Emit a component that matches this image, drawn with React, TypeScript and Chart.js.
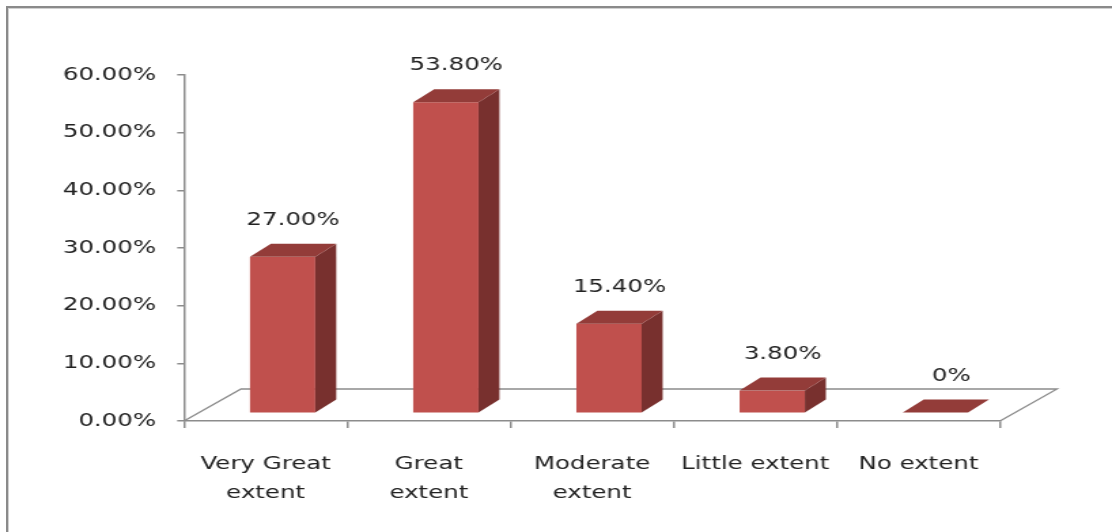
import React, { useEffect, useRef } from "react";
import { Chart, registerables } from "chart.js";

Chart.register(...registerables);

// Survey answers and their shares (percent)
const categories: string[][] = [
  ["Very Great", "extent"],
  ["Great", "extent"],
  ["Moderate", "extent"],
  ["Little extent"],
  ["No extent"],
];
const shares: number[] = [27.0, 53.8, 15.4, 3.8, 0];
const axisMax = 60;
const axisStep = 10;

// The chart is laid out in a narrower drawing space and widened on screen.
const VIEW_W = 1112;
const VIEW_H = 532;
const DRAW_W = 818;
const STRETCH = VIEW_W / DRAW_W;

// 3-D look: floor depth, bar placement inside the floor, bar depth
const FLOOR_DX = 57 / STRETCH;
const FLOOR_DY = -32;
const FRONT_DX = 17 / STRETCH;
const FRONT_DY = -8.5;
const BAR_DX = 21 / STRETCH;
const BAR_DY = -13;

const FACE = "#C0504D";
const TOP = "#933C39";
const SIDE = "#78302E";
const AXIS = "#8c8c8c";
const TEXT = "#222222";
const FONT = "DejaVu Sans";

const formatShare = (v: number) => (v === 0 ? "0%" : v.toFixed(2) + "%");

const boxes3d = {
  id: "boxes3d",
  beforeDatasetsDraw(chart: any) {
    const { ctx, chartArea } = chart;
    const { left, right, bottom } = chartArea;
    ctx.save();
    ctx.strokeStyle = AXIS;
    ctx.lineWidth = 1.3;
    ctx.beginPath();
    ctx.moveTo(left, bottom);
    ctx.lineTo(left + FLOOR_DX, bottom + FLOOR_DY);
    ctx.lineTo(right + FLOOR_DX, bottom + FLOOR_DY);
    ctx.lineTo(right, bottom);
    ctx.stroke();
    ctx.restore();
  },
  afterDatasetsDraw(chart: any) {
    const { ctx } = chart;
    const yScale = chart.scales.y;
    const meta = chart.getDatasetMeta(0);
    const values: number[] = chart.data.datasets[0].data;
    ctx.save();
    meta.data.forEach((bar: any, i: number) => {
      const { x, width } = bar.getProps(["x", "width"], true);
      const x0 = x - width / 2 + FRONT_DX;
      const x1 = x + width / 2 + FRONT_DX;
      const yb = yScale.getPixelForValue(0) + FRONT_DY;
      const yt = yScale.getPixelForValue(values[i]) + FRONT_DY;

      // front face
      ctx.fillStyle = FACE;
      ctx.fillRect(x0, yt, x1 - x0, yb - yt);

      // right side
      ctx.fillStyle = SIDE;
      ctx.beginPath();
      ctx.moveTo(x1, yt);
      ctx.lineTo(x1 + BAR_DX, yt + BAR_DY);
      ctx.lineTo(x1 + BAR_DX, yb + BAR_DY);
      ctx.lineTo(x1, yb);
      ctx.closePath();
      ctx.fill();

      // top face
      ctx.fillStyle = TOP;
      ctx.beginPath();
      ctx.moveTo(x0, yt);
      ctx.lineTo(x1, yt);
      ctx.lineTo(x1 + BAR_DX, yt + BAR_DY);
      ctx.lineTo(x0 + BAR_DX, yt + BAR_DY);
      ctx.closePath();
      ctx.fill();

      // value label
      ctx.fillStyle = TEXT;
      ctx.font = `18px "${FONT}"`;
      ctx.textAlign = "center";
      ctx.textBaseline = "alphabetic";
      const nudge = values[i] === 0 ? 4 : 0;
      ctx.fillText(
        formatShare(values[i]),
        x + FRONT_DX + BAR_DX / 2 + nudge,
        yt + BAR_DY - 19
      );
    });
    ctx.restore();
  },
};

export default function App() {
  const canvasRef = useRef<HTMLCanvasElement>(null);

  useEffect(() => {
    const canvas = canvasRef.current;
    if (!canvas) return;
    const chart = new Chart(canvas, {
      type: "bar",
      data: {
        labels: categories,
        datasets: [
          {
            data: shares,
            backgroundColor: "rgba(0,0,0,0)",
            borderWidth: 0,
            barPercentage: 0.4,
            categoryPercentage: 1.0,
          },
        ],
      },
      options: {
        responsive: false,
        devicePixelRatio: 1,
        animation: false,
        events: [],
        layout: {
          padding: { left: 0, right: DRAW_W - 1000 / STRETCH, top: 75, bottom: 0 },
        },
        plugins: {
          legend: { display: false },
          tooltip: { enabled: false },
          title: { display: false },
        },
        scales: {
          x: {
            type: "category",
            offset: true,
            grid: {
              offset: true,
              drawOnChartArea: false,
              drawTicks: true,
              tickLength: 7,
              color: AXIS,
              lineWidth: 1.5,
            },
            border: { display: true, color: AXIS, width: 1.5 },
            ticks: {
              color: TEXT,
              font: { family: FONT, size: 18, lineHeight: 29 / 18 },
              padding: 22,
              maxRotation: 0,
              minRotation: 0,
              autoSkip: false,
            },
            afterFit(scale: any) {
              scale.height = VIEW_H - 421;
            },
          },
          y: {
            min: 0,
            max: axisMax,
            grid: {
              drawOnChartArea: false,
              drawTicks: true,
              tickLength: 5,
              color: AXIS,
              lineWidth: 1.5,
            },
            border: { display: true, color: AXIS, width: 1.5 },
            ticks: {
              stepSize: axisStep,
              color: TEXT,
              font: { family: FONT, size: 18 },
              padding: 15.5,
              callback: (v: any) => Number(v).toFixed(2) + "%",
            },
            afterFit(scale: any) {
              scale.width = 184 / STRETCH;
            },
          },
        },
      },
      plugins: [boxes3d],
    });
    return () => chart.destroy();
  }, []);

  return (
    <div
      style={{
        position: "absolute",
        left: 0,
        top: 0,
        width: VIEW_W,
        height: VIEW_H,
        overflow: "hidden",
        background: "#ffffff",
      }}
    >
      <div
        style={{
          position: "absolute",
          left: 6,
          top: 6,
          width: 1300,
          height: 700,
          borderTop: "2px solid #8a8a8a",
          borderLeft: "2px solid #8a8a8a",
          boxShadow: "inset 1px 1px 0 #d0d0d0",
        }}
      />
      <canvas
        ref={canvasRef}
        width={DRAW_W}
        height={VIEW_H}
        style={{
          position: "absolute",
          left: 0,
          top: 0,
          width: VIEW_W + "px",
          height: VIEW_H + "px",
        }}
      />
    </div>
  );
}
